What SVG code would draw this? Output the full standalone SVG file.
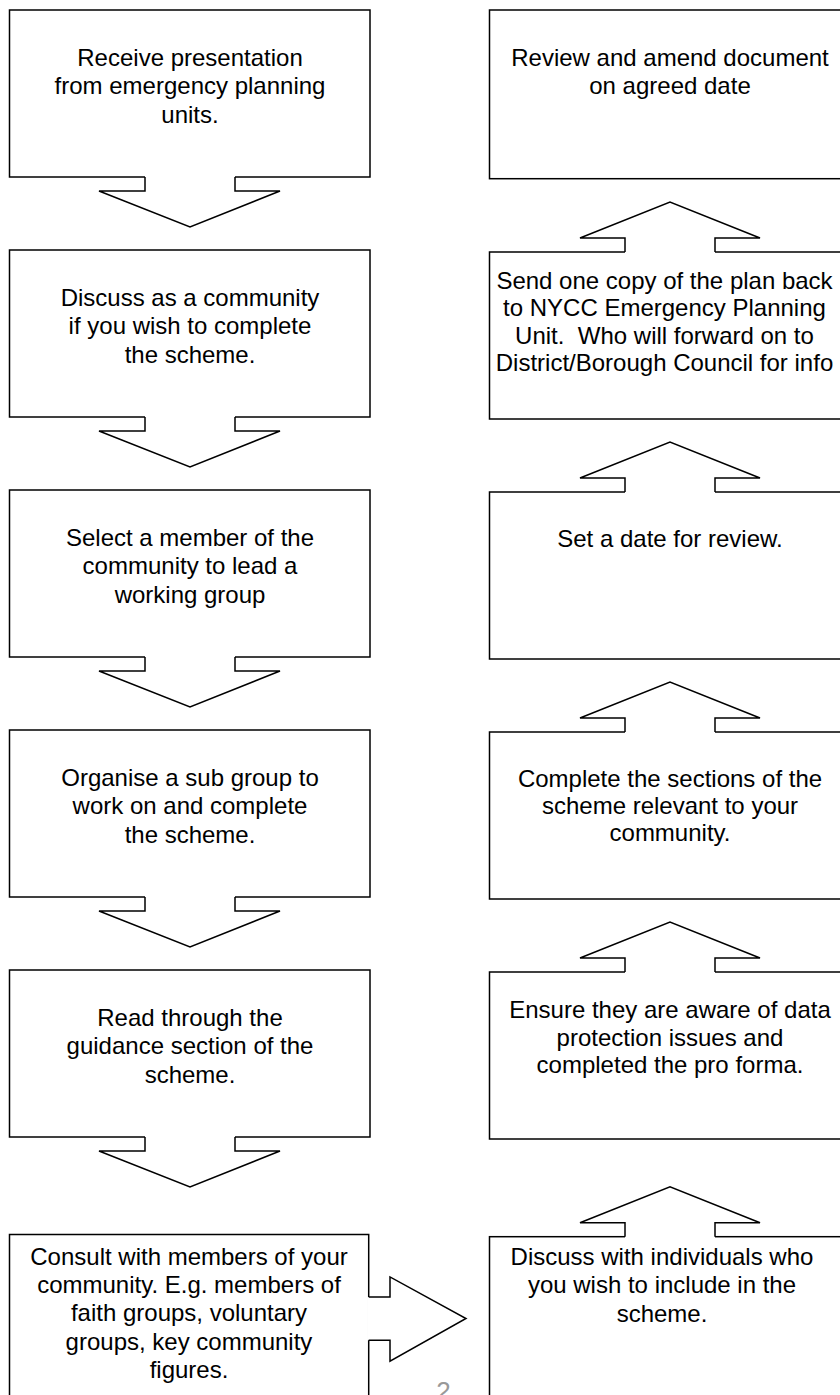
<svg xmlns="http://www.w3.org/2000/svg" xmlns:xlink="http://www.w3.org/1999/xlink" width="840" height="1395" viewBox="0 0 840 1395">
<style>
.box{fill:#fff;stroke:#000;stroke-width:1.5}
.t{font-family:"Liberation Sans",Arial,sans-serif;font-size:24px;fill:#000;text-anchor:middle;white-space:pre}
.edge{fill:none;stroke:#000;stroke-width:1.5;stroke-linejoin:miter}
.cover{fill:#fff;stroke:none}
.pg{font-family:"Liberation Sans",Arial,sans-serif;font-size:26px;fill:#999;text-anchor:middle}
</style>
<defs>
<g id="down">
<polygon class="cover" points="-45,-1.5 -45,14 -91,14 0,50 90,14 45,14 45,-1.5"/>
<polyline class="edge" points="-45,0 -45,14 -91,14 0,50 90,14 45,14 45,0"/>
</g>
<g id="up">
<polygon class="cover" points="-45,1.5 -45,-14 -90,-14 0,-50 90,-14 45,-14 45,1.5"/>
<polyline class="edge" points="-45,0 -45,-14 -90,-14 0,-50 90,-14 45,-14 45,0"/>
</g>
<g id="right">
<polygon class="cover" points="-1.5,-21.6 21.3,-21.6 21.3,-41.6 97.3,0 21.3,42.7 21.3,21.7 -1.5,21.7"/>
<polyline class="edge" points="0,-21.6 21.3,-21.6 21.3,-41.6 97.3,0 21.3,42.7 21.3,21.7 0,21.7"/>
</g>
</defs>

<g id="n1">
<rect class="box" x="9.5" y="10" width="360.5" height="167"/>
<text class="t" x="190" y="65.7">Receive presentation</text>
<text class="t" x="190" y="94.2">from emergency planning</text>
<text class="t" x="190" y="122.7">units.</text>
</g>
<g id="n2">
<rect class="box" x="9.5" y="250" width="360.5" height="167"/>
<text class="t" x="190" y="305.7">Discuss as a community</text>
<text class="t" x="190" y="334.2">if you wish to complete</text>
<text class="t" x="190" y="362.7">the scheme.</text>
</g>
<g id="n3">
<rect class="box" x="9.5" y="490" width="360.5" height="167"/>
<text class="t" x="190" y="545.7">Select a member of the</text>
<text class="t" x="190" y="574.2">community to lead a</text>
<text class="t" x="190" y="602.7">working group</text>
</g>
<g id="n4">
<rect class="box" x="9.5" y="730" width="360.5" height="167"/>
<text class="t" x="190" y="785.7">Organise a sub group to</text>
<text class="t" x="190" y="814.2">work on and complete</text>
<text class="t" x="190" y="842.7">the scheme.</text>
</g>
<g id="n5">
<rect class="box" x="9.5" y="970" width="360.5" height="167"/>
<text class="t" x="190" y="1025.7">Read through the</text>
<text class="t" x="190" y="1054.2">guidance section of the</text>
<text class="t" x="190" y="1082.7">scheme.</text>
</g>
<g id="n6">
<rect class="box" x="9.5" y="1234.5" width="359.2" height="200"/>
<text class="t" x="189" y="1264.5">Consult with members of your</text>
<text class="t" x="189" y="1292.9">community. E.g. members of</text>
<text class="t" x="189" y="1321.3">faith groups, voluntary</text>
<text class="t" x="189" y="1349.7">groups, key community</text>
<text class="t" x="189" y="1378.1">figures.</text>
</g>

<g id="n7">
<rect class="box" x="489.5" y="1236.7" width="380" height="200"/>
<text class="t" x="662" y="1265">Discuss with individuals who</text>
<text class="t" x="662" y="1293.4">you wish to include in the</text>
<text class="t" x="662" y="1321.8">scheme.</text>
</g>
<g id="n8">
<rect class="box" x="489.5" y="972" width="380" height="167"/>
<text class="t" x="670" y="1018.3">Ensure they are aware of data</text>
<text class="t" x="670" y="1045.8">protection issues and</text>
<text class="t" x="670" y="1073.3">completed the pro forma.</text>
</g>
<g id="n9">
<rect class="box" x="489.5" y="732" width="380" height="167"/>
<text class="t" x="670" y="786.7">Complete the sections of the</text>
<text class="t" x="670" y="813.7">scheme relevant to your</text>
<text class="t" x="670" y="840.7">community.</text>
</g>
<g id="n10">
<rect class="box" x="489.5" y="492" width="380" height="167"/>
<text class="t" x="670" y="546.7">Set a date for review.</text>
</g>
<g id="n11">
<rect class="box" x="489.5" y="252" width="380" height="167"/>
<text class="t" x="664.5" y="288.8">Send one copy of the plan back</text>
<text class="t" x="664.5" y="316.3">to NYCC Emergency Planning</text>
<text class="t" x="664.5" y="343.8">Unit.  Who will forward on to</text>
<text class="t" x="664.5" y="371.3">District/Borough Council for info</text>
</g>
<g id="n12">
<rect class="box" x="489.5" y="10" width="380" height="168.7"/>
<text class="t" x="670" y="65.7">Review and amend document</text>
<text class="t" x="670" y="94.2">on agreed date</text>
</g>

<g id="connectors">
<use xlink:href="#down" href="#down" transform="translate(190,177)"/>
<use xlink:href="#down" href="#down" transform="translate(190,417)"/>
<use xlink:href="#down" href="#down" transform="translate(190,657)"/>
<use xlink:href="#down" href="#down" transform="translate(190,897)"/>
<use xlink:href="#down" href="#down" transform="translate(190,1137)"/>
<use xlink:href="#right" href="#right" transform="translate(368.7,1318.5)"/>
<use xlink:href="#up" href="#up" transform="translate(670,1236.7)"/>
<use xlink:href="#up" href="#up" transform="translate(670,972)"/>
<use xlink:href="#up" href="#up" transform="translate(670,732)"/>
<use xlink:href="#up" href="#up" transform="translate(670,492)"/>
<use xlink:href="#up" href="#up" transform="translate(670,252)"/>
</g>

<text class="pg" x="443.5" y="1400">2</text>
</svg>
